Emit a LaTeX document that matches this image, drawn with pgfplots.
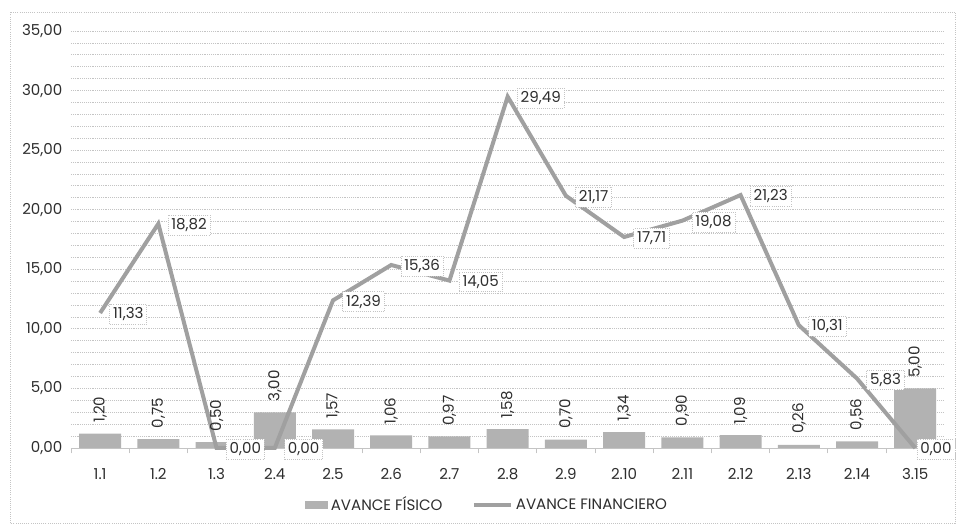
\documentclass[border=0pt]{standalone}
\usepackage{fontspec}
\setmainfont{Poppins}
\usepackage{pgfplots}
\pgfplotsset{compat=1.18}
\definecolor{barc}{HTML}{B2B2B2}
\definecolor{linec}{HTML}{A0A0A0}
\definecolor{txt}{HTML}{2E2E2E}
\definecolor{gridc}{HTML}{C4C4C4}
\newcommand{\numfmt}[1]{\pgfmathprintnumber[fixed,fixed zerofill,precision=2,use comma]{#1}}
\newcommand{\lblfont}{\fontsize{11.3}{13}\selectfont}
\begin{document}
\begin{tikzpicture}
\useasboundingbox (-53.25pt,-59.25pt) rectangle (664.5pt,336pt);
\draw[gridc, densely dotted, line width=0.6pt] (-45.75pt,-56.25pt) rectangle (663pt,327pt);
\begin{axis}[
  at={(0,0)}, anchor=south west,
  scale only axis, width=655pt, height=312.75pt,
  xmin=-0.5, xmax=14.5, ymin=0, ymax=35,
  clip=false,
  /pgf/number format/assume math mode=true,
  axis lines*=left,
  y axis line style={draw=none},
  x axis line style={gridc, line width=0.6pt},
  xtick={0,...,14},
  xticklabels={1.1,1.2,1.3,2.4,2.5,2.6,2.7,2.8,2.9,2.10,2.11,2.12,2.13,2.14,3.15},
  minor xtick={-0.5,0.5,...,14.5},
  major tick length=0pt, minor tick length=4pt, tick align=outside,
  xtick style={gridc, line width=0.6pt},
  ytick style={draw=none},
  ytick={0,5,...,35},
  minor y tick num=4,
  ymajorgrids, yminorgrids,
  major grid style={gridc, densely dotted, line width=0.6pt},
  minor grid style={gridc, densely dotted, line width=0.6pt},
  yticklabel={\numfmt{\tick}},
  ticklabel style={font=\lblfont, text=txt},
  yticklabel style={xshift=-3pt},
  xticklabel style={yshift=-12pt},
  legend style={at={(0.477,-0.136)}, anchor=center, draw=none, fill=none,
    legend columns=2, font=\lblfont, text=txt,
    /tikz/every even column/.append style={column sep=20pt}},
]
\addplot[fill=barc, draw=none, ybar, bar width=31.5pt, area legend,
  legend image code/.code={\fill[barc] (0pt,-3pt) rectangle (17pt,3pt);},
  nodes near coords={\numfmt{\pgfplotspointmeta}},
  every node near coord/.append style={rotate=90, anchor=west, inner xsep=8pt, text=txt, font=\lblfont}]
coordinates {(0,1.20) (1,0.75) (2,0.50) (3,3.00) (4,1.57) (5,1.06) (6,0.97) (7,1.58) (8,0.70) (9,1.34) (10,0.90) (11,1.09) (12,0.26) (13,0.56) (14,5.00)};
\addlegendentry{AVANCE FÍSICO}
\addplot[linec, line width=3pt, mark=none,
  legend image code/.code={\draw[linec, line width=3pt] (0pt,0pt) -- (28pt,0pt);},
  nodes near coords={\numfmt{\pgfplotspointmeta}},
  every node near coord/.append style={anchor=west, xshift=7pt, yshift=-1pt, fill=white, draw=gridc, densely dotted, line width=0.6pt, inner sep=2.5pt, text=txt, font=\lblfont},
  coordinate style/.condition={x>13.5}{xshift=-6pt}]
coordinates {(0,11.33) (1,18.82) (2,0.00) (3,0.00) (4,12.39) (5,15.36) (6,14.05) (7,29.49) (8,21.17) (9,17.71) (10,19.08) (11,21.23) (12,10.31) (13,5.83) (14,0.00)};
\addlegendentry{AVANCE FINANCIERO}
\end{axis}
\end{tikzpicture}
\end{document}
